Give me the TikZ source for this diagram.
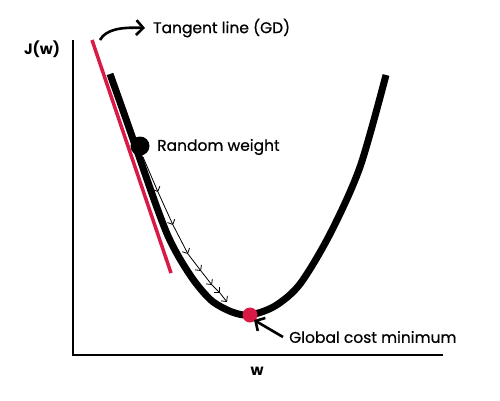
\documentclass[tikz,border=0pt]{standalone}
\usepackage{fontspec}
\setmainfont{Poppins}
\newfontfamily\lblfont[FakeBold=0.6]{Poppins}
\usetikzlibrary{arrows.meta}
\definecolor{tred}{HTML}{D91A45}
\begin{document}
\begin{tikzpicture}[x=1pt,y=-1pt,
  axis/.style={line width=2.5pt,black},
  lbl/.style={inner sep=0pt,anchor=west,font=\lblfont\fontsize{15.5}{18}\selectfont},
  axlbl/.style={inner sep=0pt,font=\fontsize{15}{17}\selectfont\bfseries},
  stepar/.style={-{Straight Barb[length=4pt,width=8pt]},line width=0.8pt},
  callout/.style={-{Straight Barb[length=7pt,width=15pt]},line width=2.6pt}]
\useasboundingbox (0,0) rectangle (500,400);
\coordinate (yt) at (73,40);
\coordinate (o) at (73,355);
\coordinate (xr) at (443,355);
\draw[axis] (yt) -- (o) -- (xr);
\node[axlbl] (jw) at (42,49) {J(w)};
\node[axlbl] (wl) at (257,371) {w};
% tangent line
\coordinate (t1) at (92,40);
\coordinate (t2) at (171,273);
\draw[tred,line width=3.5pt] (t1) -- (t2);
% cost curve
\draw[line width=7pt,line join=round] plot[smooth,tension=0.5] coordinates {(110,74) (126,119) (142,165) (156,205) (168,236) (180,259) (195,282) (212,301) (232,312) (250,315) (275,306) (300,284) (330,234) (360,167) (386,75)};
% dots
\node[circle,fill=black,inner sep=0pt,minimum size=19pt] (rw) at (140,146) {};
\node[circle,fill=tred,inner sep=0pt,minimum size=15pt] (gm) at (250,315) {};
% labels
\node[lbl] (tl) at (153,28) {Tangent line (GD)};
\node[lbl] (rwl) at (157,147) {Random weight};
\node[lbl] (gml) at (289,337) {Global cost minimum};
% callout arrows
\coordinate (ta) at (100,40);
\draw[callout] (ta) .. controls (106,29) and (122,27) .. (145,28);
\coordinate (ga) at (283,337);
\draw[callout] (ga) -- (254,320);
% step arrows
\coordinate (s0) at (143,157);
\coordinate (s1) at (158,192);
\coordinate (s2) at (173,225);
\coordinate (s3) at (188,254);
\coordinate (s4) at (201,271);
\coordinate (s5) at (212,285);
\coordinate (s6) at (220,293);
\coordinate (s7) at (227,302);
\foreach \a/\b in {s0/s1,s1/s2,s2/s3,s3/s4,s4/s5,s5/s6,s6/s7}
  \draw[stepar] (\a) -- (\b);
\end{tikzpicture}
\end{document}
